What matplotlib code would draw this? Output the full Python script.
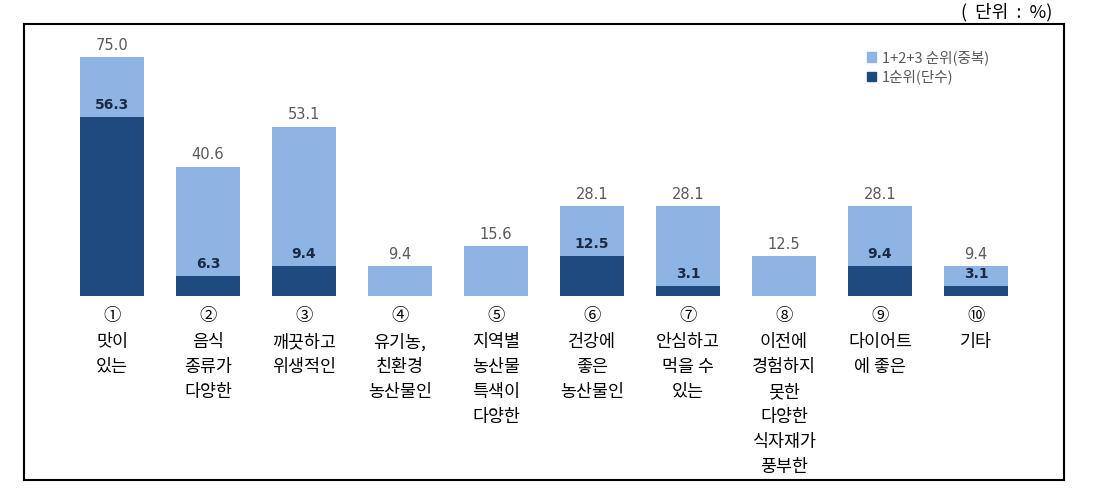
import matplotlib
matplotlib.use("Agg")
import matplotlib.pyplot as plt
from matplotlib.patches import Patch

plt.rcParams['font.family'] = ['Noto Sans CJK KR', 'DejaVu Sans']

numbers = ["①", "②", "③", "④", "⑤", "⑥", "⑦", "⑧", "⑨", "⑩"]
categories = [
    ["맛이", "있는"],
    ["음식", "종류가", "다양한"],
    ["깨끗하고", "위생적인"],
    ["유기농,", "친환경", "농산물인"],
    ["지역별", "농산물", "특색이", "다양한"],
    ["건강에", "좋은", "농산물인"],
    ["안심하고", "먹을 수", "있는"],
    ["이전에", "경험하지", "못한", "다양한", "식자재가", "풍부한"],
    ["다이어트", "에 좋은"],
    ["기타"],
]
total_rank = [75.0, 40.6, 53.1, 9.4, 15.6, 28.1, 28.1, 12.5, 28.1, 9.4]
first_rank = [56.3, 6.3, 9.4, 0.0, 0.0, 12.5, 3.1, 0.0, 9.4, 3.1]
legend_labels = ["1+2+3 순위(중복)", "1순위(단수)"]

LIGHT = '#8DB4E3'
DARK = '#1F4A80'

W, H = 1098, 497
fig = plt.figure(figsize=(W / 100, H / 100), dpi=100)
left, top, right, bottom = 24, 24, 1064, 480
ax = fig.add_axes([left / W, 1 - bottom / H, (right - left) / W, (bottom - top) / H])

x = list(range(len(total_rank)))
ax.bar(x, total_rank, width=0.667, color=LIGHT, zorder=2)
ax.bar(x, first_rank, width=0.667, color=DARK, zorder=3)

ax.set_xlim(-88 / 96, (1040 - 88) / 96)
ppu = 239 / 75.0
ax.set_ylim(-184 / ppu, 272 / ppu)

for i, (t, f) in enumerate(zip(total_rank, first_rank)):
    ax.annotate(f"{t:.1f}", xy=(i, t), xytext=(0, 12), textcoords='offset pixels',
                ha='center', va='center', fontsize=10.5, color='#595959',
                family='DejaVu Sans')
    if f > 0:
        ax.annotate(f"{f:.1f}", xy=(i, f), xytext=(0, 12), textcoords='offset pixels',
                    ha='center', va='center', fontsize=10, color='#1A2A44',
                    fontweight='bold', family='DejaVu Sans', zorder=5)

for i, (num, lines) in enumerate(zip(numbers, categories)):
    ax.annotate(num, xy=(i, 0), xytext=(0, -20), textcoords='offset pixels',
                ha='center', va='center', fontsize=12.5, color='black')
    for k, line in enumerate(lines):
        ax.annotate(line, xy=(i, 0), xytext=(0, -46 - 25 * k), textcoords='offset pixels',
                    ha='center', va='center', fontsize=12.5, color='black')

ax.set_xticks([])
ax.set_yticks([])
for s in ax.spines.values():
    s.set_linewidth(1.5)
    s.set_color('black')

handles = [Patch(color=LIGHT), Patch(color=DARK)]
fig.legend(handles, legend_labels, loc='upper left',
           bbox_to_anchor=(860 / W, 1 - 43 / H), frameon=False, fontsize=10.5,
           handlelength=0.6, handleheight=0.6, handletextpad=0.4,
           labelspacing=0.3, labelcolor='#595959', borderpad=0)

fig.text(1052 / W, 1 - 12 / H, "(  단위  :  %)", ha='right', va='center', fontsize=13)

fig.savefig('out.png', dpi=100)
